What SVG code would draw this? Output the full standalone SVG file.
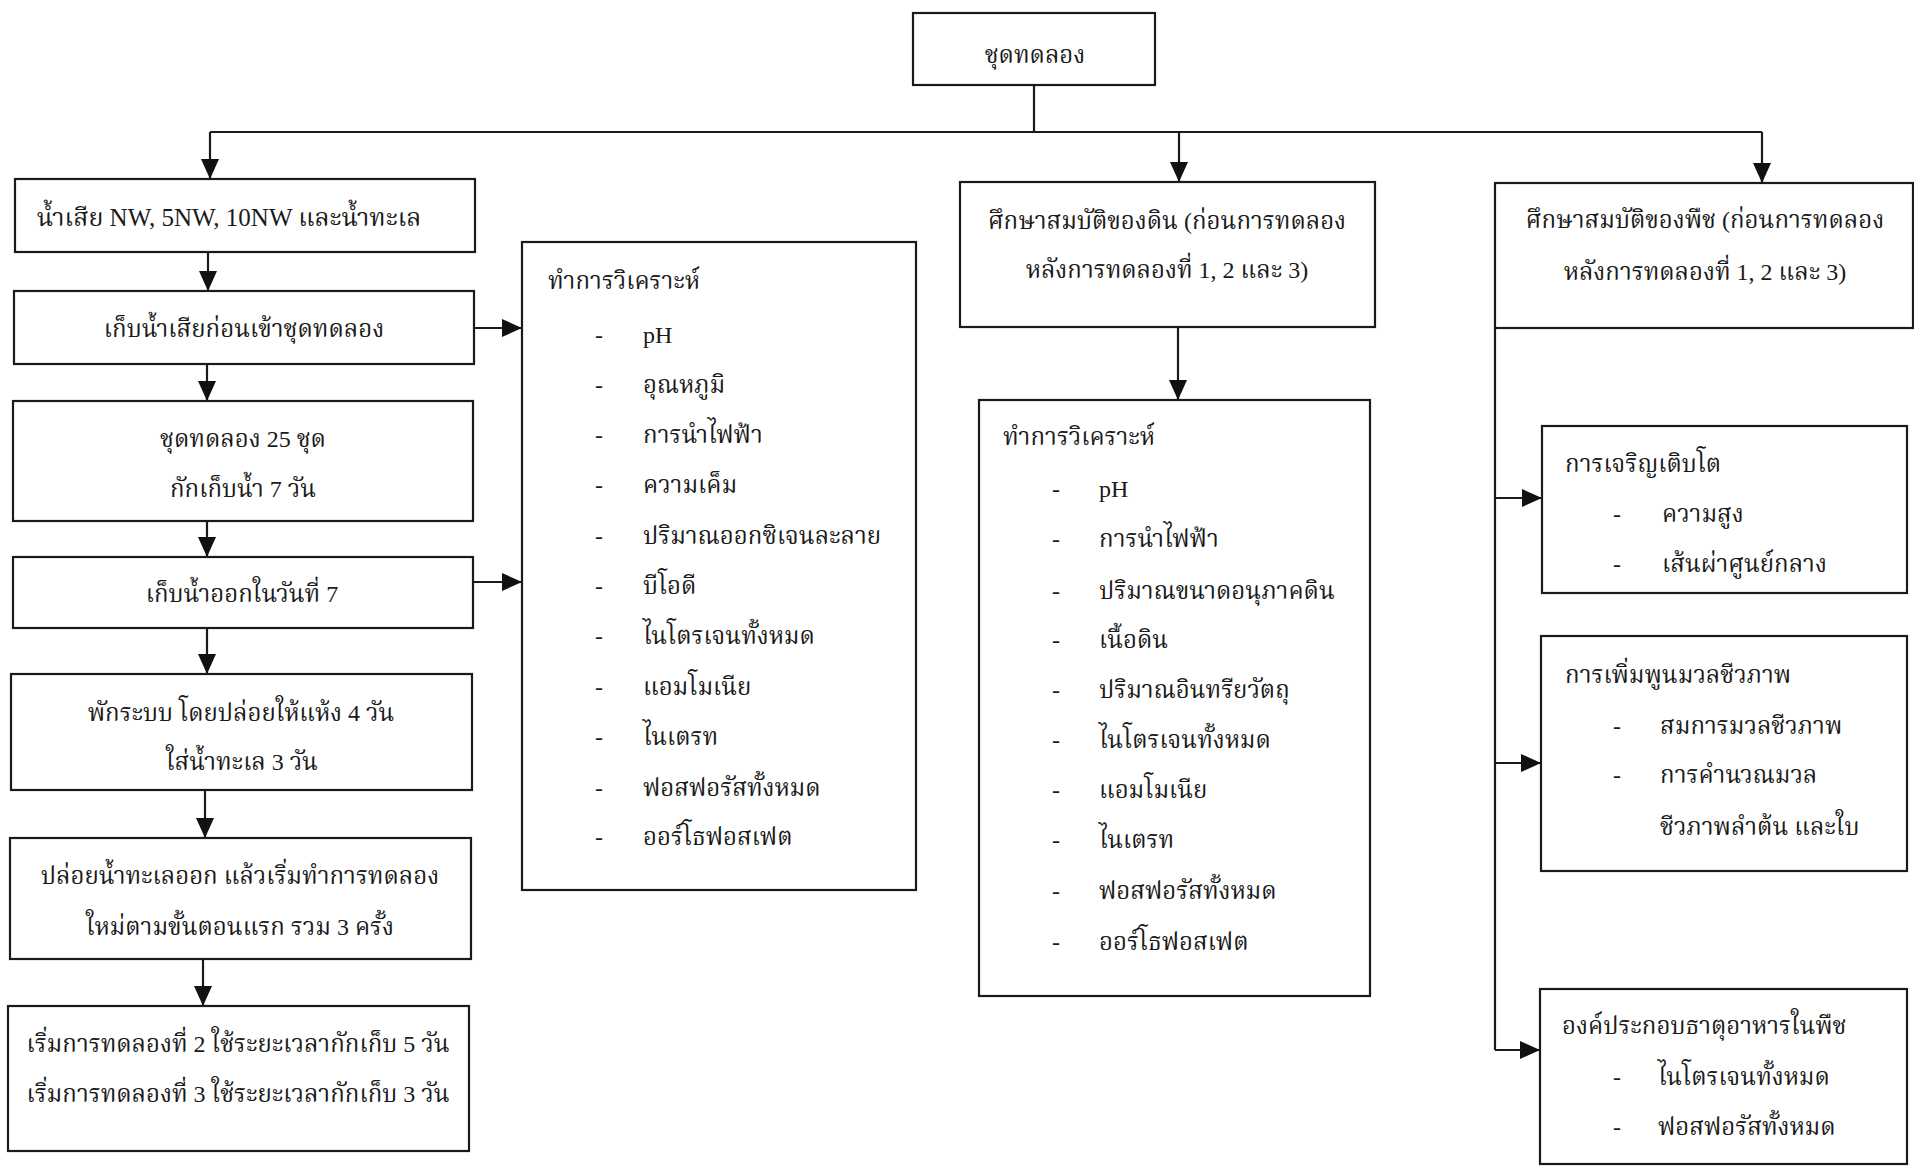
<svg xmlns="http://www.w3.org/2000/svg" width="1914" height="1167" viewBox="0 0 1914 1167">
<defs>
<marker id="ah" viewBox="0 0 20 18" refX="20" refY="9" markerWidth="20" markerHeight="18" markerUnits="userSpaceOnUse" orient="auto">
<path d="M0,0 L20,9 L0,18 Z" fill="#111"/>
</marker>
</defs>
<style>
.box{fill:#fff;stroke:#1a1a1a;stroke-width:2.2}
.ln{fill:none;stroke:#1a1a1a;stroke-width:2.2}
.arr{fill:none;stroke:#1a1a1a;stroke-width:2.2;marker-end:url(#ah)}
text{font-family:"Liberation Serif","DejaVu Serif","Noto Serif Thai","Noto Sans Thai",serif;font-size:24px;fill:#1a1a1a}
.c{text-anchor:middle}
</style>
<rect width="1914" height="1167" fill="#fff"/>
<g id="connectors">
<path class="ln" d="M1034,85 V132 M210,132 H1762"/>
<path class="arr" d="M210,132 V179"/>
<path class="arr" d="M1179,132 V182"/>
<path class="arr" d="M1762,132 V183"/>
<path class="arr" d="M208,252 V291"/>
<path class="arr" d="M207,364 V401"/>
<path class="arr" d="M207,521 V557"/>
<path class="arr" d="M207,628 V674"/>
<path class="arr" d="M205,790 V838"/>
<path class="arr" d="M203,959 V1006"/>
<path class="arr" d="M474,328 H522"/>
<path class="arr" d="M473,582 H522"/>
<path class="arr" d="M1178,327 V400"/>
<path class="ln" d="M1495,328 V1050"/>
<path class="arr" d="M1495,498 H1542"/>
<path class="arr" d="M1495,763 H1541"/>
<path class="arr" d="M1495,1050 H1540"/>
</g>
<g id="n-top"><rect class="box" x="913" y="13" width="242" height="72"/><text class="c" x="1035" y="63">ชุดทดลอง</text></g>
<g id="n-l1"><rect class="box" x="15" y="179" width="460" height="73"/><text class="c" x="229" y="226" style="font-size:25px">น้ำเสีย NW, 5NW, 10NW และน้ำทะเล</text></g>
<g id="n-l2"><rect class="box" x="14" y="291" width="460" height="73"/><text class="c" x="244" y="337">เก็บน้ำเสียก่อนเข้าชุดทดลอง</text></g>
<g id="n-l3"><rect class="box" x="13" y="401" width="460" height="120"/><text class="c" x="243" y="447">ชุดทดลอง 25 ชุด</text><text class="c" x="243" y="497">กักเก็บน้ำ 7 วัน</text></g>
<g id="n-l4"><rect class="box" x="13" y="557" width="460" height="71"/><text class="c" x="242" y="602">เก็บน้ำออกในวันที่ 7</text></g>
<g id="n-l5"><rect class="box" x="11" y="674" width="461" height="116"/><text class="c" x="241" y="721">พักระบบ โดยปล่อยให้แห้ง 4 วัน</text><text class="c" x="242" y="770">ใส่น้ำทะเล  3 วัน</text></g>
<g id="n-l6"><rect class="box" x="10" y="838" width="461" height="121"/><text class="c" x="240" y="884">ปล่อยน้ำทะเลออก แล้วเริ่มทำการทดลอง</text><text class="c" x="240" y="935">ใหม่ตามขั้นตอนแรก  รวม 3 ครั้ง</text></g>
<g id="n-l7"><rect class="box" x="8" y="1006" width="461" height="145"/><text class="c" x="238" y="1052">เริ่มการทดลองที่ 2 ใช้ระยะเวลากักเก็บ 5 วัน</text><text class="c" x="238" y="1102">เริ่มการทดลองที่ 3 ใช้ระยะเวลากักเก็บ 3 วัน</text></g>
<g id="n-wa"><rect class="box" x="522" y="242" width="394" height="648"/>
<text x="548" y="289">ทำการวิเคราะห์</text>
<g>
<text x="595" y="343">-</text><text x="643" y="343">pH</text>
<text x="595" y="393">-</text><text x="643" y="393">อุณหภูมิ</text>
<text x="595" y="443">-</text><text x="643" y="443">การนำไฟฟ้า</text>
<text x="595" y="493">-</text><text x="643" y="493">ความเค็ม</text>
<text x="595" y="544">-</text><text x="643" y="544">ปริมาณออกซิเจนละลาย</text>
<text x="595" y="594">-</text><text x="643" y="594">บีโอดี</text>
<text x="595" y="644">-</text><text x="643" y="644">ไนโตรเจนทั้งหมด</text>
<text x="595" y="695">-</text><text x="643" y="695">แอมโมเนีย</text>
<text x="595" y="745">-</text><text x="643" y="745">ไนเตรท</text>
<text x="595" y="796">-</text><text x="643" y="796">ฟอสฟอรัสทั้งหมด</text>
<text x="595" y="845">-</text><text x="643" y="845">ออร์โธฟอสเฟต</text>
</g></g>
<g id="n-soil"><rect class="box" x="960" y="182" width="415" height="145"/><text class="c" x="1167" y="229">ศึกษาสมบัติของดิน (ก่อนการทดลอง</text><text class="c" x="1167" y="278">หลังการทดลองที่ 1, 2 และ 3)</text></g>
<g id="n-sa"><rect class="box" x="979" y="400" width="391" height="596"/>
<text x="1003" y="445">ทำการวิเคราะห์</text>
<text x="1052" y="497">-</text><text x="1099" y="497">pH</text>
<text x="1052" y="547">-</text><text x="1099" y="547">การนำไฟฟ้า</text>
<text x="1052" y="599">-</text><text x="1099" y="599">ปริมาณขนาดอนุภาคดิน</text>
<text x="1052" y="648">-</text><text x="1099" y="648">เนื้อดิน</text>
<text x="1052" y="698">-</text><text x="1099" y="698">ปริมาณอินทรียวัตถุ</text>
<text x="1052" y="748">-</text><text x="1099" y="748">ไนโตรเจนทั้งหมด</text>
<text x="1052" y="798">-</text><text x="1099" y="798">แอมโมเนีย</text>
<text x="1052" y="848">-</text><text x="1099" y="848">ไนเตรท</text>
<text x="1052" y="899">-</text><text x="1099" y="899">ฟอสฟอรัสทั้งหมด</text>
<text x="1052" y="950">-</text><text x="1099" y="950">ออร์โธฟอสเฟต</text>
</g>
<g id="n-plant"><rect class="box" x="1495" y="183" width="418" height="145"/><text class="c" x="1705" y="228">ศึกษาสมบัติของพืช (ก่อนการทดลอง</text><text class="c" x="1705" y="280">หลังการทดลองที่ 1, 2 และ 3)</text></g>
<g id="n-growth"><rect class="box" x="1542" y="426" width="365" height="167"/>
<text x="1565" y="472">การเจริญเติบโต</text>
<text x="1613" y="522">-</text><text x="1662" y="522">ความสูง</text>
<text x="1613" y="572">-</text><text x="1662" y="572">เส้นผ่าศูนย์กลาง</text>
</g>
<g id="n-biomass"><rect class="box" x="1541" y="636" width="366" height="235"/>
<text x="1565" y="683">การเพิ่มพูนมวลชีวภาพ</text>
<text x="1613" y="734">-</text><text x="1660" y="734">สมการมวลชีวภาพ</text>
<text x="1613" y="783">-</text><text x="1660" y="783">การคำนวณมวล</text>
<text x="1660" y="835">ชีวภาพลำต้น และใบ</text>
</g>
<g id="n-nutr"><rect class="box" x="1540" y="989" width="367" height="175"/>
<text x="1562" y="1034">องค์ประกอบธาตุอาหารในพืช</text>
<text x="1613" y="1085">-</text><text x="1658" y="1085">ไนโตรเจนทั้งหมด</text>
<text x="1613" y="1135">-</text><text x="1658" y="1135">ฟอสฟอรัสทั้งหมด</text>
</g>
</svg>
